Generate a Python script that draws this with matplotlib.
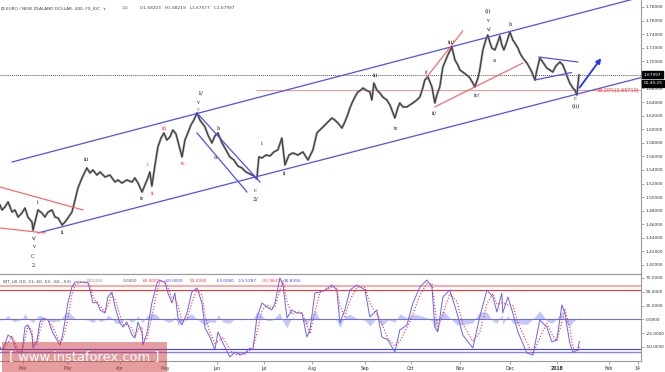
import numpy as np
import matplotlib
matplotlib.use("Agg")
import matplotlib.pyplot as plt
from matplotlib.patches import Rectangle

# EUR/NZD 8h chart with Elliott wave counts and WaveTrend (WT_LB) panel

# --- price (trading-day index, close) ---
days = [0.0, 0.9, 2.2, 3.6, 5.4, 6.7, 8.1, 9.8, 11.2, 12.5, 14.3, 14.8, 16.1, 17.0, 18.8, 20.1, 21.5, 23.3, 24.6, 26.0,
        27.8, 29.1, 30.4, 32.2, 33.6, 34.9, 36.7, 38.0, 38.9, 40.3, 41.6, 43.4, 44.8, 47.0, 49.2, 51.5, 52.8, 54.6, 56.8, 59.1,
        60.4, 61.8, 63.6, 64.9, 66.2, 67.1, 68.0, 69.4, 70.7, 72.1, 73.4, 74.7, 76.1, 77.4, 78.8, 80.1, 81.5, 82.8, 84.1, 85.5,
        86.8, 88.2, 89.5, 91.8, 93.1, 94.9, 96.2, 97.6, 99.4, 101.2, 102.9, 104.7, 106.5, 108.3, 110.1, 111.9, 113.7, 115.0, 115.9, 117.3,
        119.1, 120.9, 122.6, 124.4, 126.2, 127.6, 129.4, 131.1, 133.4, 135.6, 137.9, 140.1, 141.9, 143.2, 144.6, 146.4, 148.6, 149.9, 151.3, 153.1,
        154.4, 155.3, 156.7, 157.6, 158.9, 160.2, 161.6, 162.5, 163.8, 165.6, 166.5, 167.4, 168.7, 170.1, 171.4, 173.2, 174.6, 176.8, 178.1, 179.0,
        180.4, 182.2, 183.5, 184.9, 186.6, 188.0, 189.3, 190.2, 191.6, 192.5, 193.4, 194.7, 195.6, 196.9, 198.3, 199.6, 200.5, 202.3, 203.7, 205.0,
        205.9, 207.2, 209.0, 210.4, 211.7, 212.6, 214.0, 214.8, 216.2, 217.5, 218.4, 219.3, 220.2, 221.6, 222.9, 223.8, 224.7, 225.6, 226.9, 228.3,
        229.6, 230.5, 231.9, 232.8, 234.1, 235.9, 237.2, 238.1, 239.5, 240.4, 241.7, 243.0, 244.8, 246.2, 247.5, 248.9, 250.7, 252.0, 252.9, 254.2,
        255.1, 256.5, 257.4, 258.3, 259.2]
close = [1.4883, 1.4810, 1.4854, 1.4928, 1.4780, 1.4810, 1.4706, 1.4765, 1.4839, 1.4706, 1.4633, 1.4515, 1.4692, 1.4810, 1.4765, 1.4706, 1.4780, 1.4810, 1.4706, 1.4692,
         1.4589, 1.4633, 1.4692, 1.4780, 1.4957, 1.5134, 1.5281, 1.5370, 1.5429, 1.5355, 1.5399, 1.5325, 1.5370, 1.5296, 1.5325, 1.5222, 1.5252, 1.5207, 1.5252, 1.5222,
         1.5281, 1.5207, 1.5075, 1.5178, 1.5281, 1.5370, 1.5163, 1.5473, 1.5738, 1.5870, 1.5944, 1.5841, 1.5885, 1.5988, 1.5929, 1.5768, 1.5591, 1.5841, 1.5944, 1.6062,
         1.6135, 1.6239, 1.6135, 1.6032, 1.5915, 1.5797, 1.5900, 1.5944, 1.5797, 1.5694, 1.5591, 1.5547, 1.5458, 1.5429, 1.5370, 1.5340, 1.5311, 1.5266, 1.5591, 1.5576,
         1.5620, 1.5605, 1.5665, 1.5694, 1.5870, 1.5473, 1.5620, 1.5650, 1.5620, 1.5665, 1.5547, 1.5694, 1.5944, 1.5988, 1.6032, 1.6091, 1.6165, 1.6135, 1.6091, 1.6017,
         1.6106, 1.6180, 1.6313, 1.6386, 1.6474, 1.6548, 1.6577, 1.6607, 1.6577, 1.6548, 1.6430, 1.6680, 1.6577, 1.6533, 1.6474, 1.6430, 1.6357, 1.6165, 1.6313, 1.6386,
         1.6328, 1.6328, 1.6357, 1.6386, 1.6430, 1.6474, 1.6607, 1.6725, 1.6769, 1.6695, 1.6622, 1.6386, 1.6504, 1.6622, 1.6916, 1.7019, 1.7093, 1.7211, 1.7019, 1.6946,
         1.6872, 1.6842, 1.6798, 1.6754, 1.6680, 1.6622, 1.6754, 1.6872, 1.7167, 1.7314, 1.7387, 1.7284, 1.7196, 1.7167, 1.7284, 1.7373, 1.7240, 1.7167, 1.7284, 1.7432,
         1.7314, 1.7270, 1.7196, 1.7122, 1.7049, 1.6975, 1.6901, 1.6842, 1.6725, 1.6872, 1.7049, 1.6990, 1.6901, 1.6872, 1.6842, 1.6931, 1.6990, 1.6946, 1.6872, 1.6754,
         1.6680, 1.6607, 1.6577, 1.6504, 1.6798]
last_close = 1.67997
fib_382 = 1.65710

# --- WaveTrend indicator ---
wt_days = [0.0, 1.3, 3.6, 5.4, 6.7, 8.1, 9.8, 11.2, 12.5, 14.3, 14.8, 16.6, 17.9, 19.2, 21.5, 23.7, 25.5, 26.9, 28.2, 30.4,
           32.2, 33.6, 36.7, 39.4, 40.3, 41.6, 43.4, 44.8, 47.0, 48.3, 50.1, 51.5, 53.7, 55.1, 56.8, 59.1, 60.4, 61.8, 63.6, 64.0,
           65.8, 68.0, 70.3, 71.6, 73.9, 75.2, 77.0, 78.3, 79.7, 81.5, 83.7, 85.9, 88.2, 90.4, 91.8, 94.0, 96.2, 97.6, 99.8, 102.9,
           105.2, 107.4, 109.7, 111.9, 113.2, 115.0, 117.3, 119.5, 121.7, 123.1, 125.3, 126.7, 128.5, 130.7, 132.9, 135.2, 137.4, 138.8, 141.0, 143.2,
           145.5, 148.6, 150.8, 152.2, 154.4, 156.7, 159.8, 163.4, 165.6, 168.7, 171.0, 173.7, 176.8, 179.0, 182.2, 184.9, 188.0, 191.1, 193.4, 194.7,
           196.0, 198.3, 201.4, 204.6, 207.2, 211.7, 214.8, 218.0, 220.7, 222.5, 224.7, 225.1, 227.4, 229.6, 231.9, 235.9, 238.6, 241.7, 244.8, 247.1,
           249.3, 251.6, 252.9, 255.1, 256.5, 258.7, 259.4]
wt1 = [-51.8, -55.4, -28.3, -33.7, -50.0, -59.1, -60.9, -13.8, -10.1, -28.3, -51.8, -37.3, -4.7, 2.5, -1.1, -24.6, -37.3, -46.4, -24.6, 29.7,
       58.7, 67.8, 67.8, 65.9, 53.3, 29.7, 31.5, 17.0, 11.6, 40.6, 49.6, 22.5, -6.5, -13.8, -4.7, -28.3, -33.7, -4.7, -24.6, -46.4,
       -24.6, 29.7, 65.9, 71.4, 65.9, 47.8, 29.7, 47.8, 2.5, -10.1, 11.6, 49.6, 56.9, 29.7, -15.6, -31.9, -55.4, -22.8, -42.8, -68.1,
       -59.1, -64.5, -60.9, -51.8, -55.4, 2.5, 29.7, 22.5, 17.0, 29.7, 75.0, 62.3, 2.5, 17.0, 11.6, 11.6, -31.9, -19.2, 47.8, 49.6,
       53.3, 62.3, 53.3, -6.5, 17.0, 53.3, 62.3, 53.3, 4.3, 17.0, -31.9, -37.3, -59.1, -19.2, -10.1, 29.7, 58.7, 71.4, 58.7, -13.8,
       -22.8, 40.6, 53.3, 11.6, -28.3, -51.8, 4.3, 53.3, 40.6, 13.4, 47.8, 11.6, 40.6, 11.6, -22.8, -60.9, -64.5, -1.1, -13.8, -40.9,
       -37.3, 26.1, 11.6, -42.8, -59.1, -55.4, -40.0]
wt2 = [-50, -53, -42, -30, -42, -55, -60, -35, -12, -20, -40, -45, -20, -2, 0, -14, -31, -42, -36, 0,
       45, 63, 68, 67, 60, 42, 30, 24, 14, 25, 45, 36, 8, -10, -9, -16, -31, -18, -14, -36,
       -36, 5, 50, 69, 69, 57, 38, 38, 25, -4, 0, 30, 54, 44, 7, -24, -43, -40, -32, -55,
       -64, -62, -63, -56, -53, -25, 16, 26, 20, 23, 52, 70, 32, 9, 14, 11, -10, -26, 14, 49,
       52, 58, 58, 24, 5, 35, 58, 58, 29, 10, -8, -35, -48, -40, -15, 10, 44, 65, 65, 22,
       -18, 9, 47, 32, -8, -40, -24, 28, 47, 27, 30, 30, 26, 26, -6, -42, -63, -33, -7, -27,
       -39, -5, 19, -16, -51, -57, -48]
wt_hist = [-1, -1, 7, -2, -4, -2, 0, 11, 1, -4, -6, 4, 8, 2, -1, -5, -3, -2, 6, 15,
           7, 2, 0, -1, -3, -6, 1, -4, -1, 8, 2, -7, -7, -2, 2, -6, -1, 7, -5, -5,
           6, 12, 8, 1, -2, -5, -4, 5, -11, -3, 6, 10, 1, -7, -11, -4, -6, 9, -5, -7,
           2, -1, 1, 2, -1, 14, 7, -2, -2, 3, 12, -4, -15, 4, -1, 0, -11, 3, 17, 0,
           1, 2, -2, -15, 6, 9, 2, -2, -12, 3, -12, -1, -5, 10, 3, 10, 7, 3, -3, -18,
           -2, 16, 3, -10, -10, -6, 14, 13, -3, -7, 9, -9, 7, -7, -8, -9, 0, 16, -3, -7,
           1, 15, -4, -13, -4, 1, 4]
ob_levels = [60, 53]
os_levels = [-60, -53]

# --- axis labels ---
month_pos = [10.3, 30.4, 53.7, 73.9, 97.1, 118.2, 139.7, 163.4, 184.0, 205.9, 228.3, 249.3, 272.6, 285.6]
month_lbl = ["Feb", "Mar", "Apr", "May", "Jun", "Jul", "Aug", "Sep", "Oct", "Nov", "Dec", "2018", "Feb", "14"]
price_ticks = [1.40, 1.42, 1.44, 1.46, 1.48, 1.50, 1.52, 1.54, 1.56, 1.58, 1.60, 1.62, 1.64, 1.66, 1.70, 1.72, 1.74, 1.76, 1.78]
wt_ticks = [75, 50, 25, 0, -25, -50]

# --- drawn trend lines (start/end in day, price) ---
channel_up = [(5.4, 1.5517), (287.4, 1.7949)]
channel_lo = [(17.0, 1.4471), (287.4, 1.6763)]
corr_up = [(88.2, 1.6239), (116.4, 1.5222)]
corr_lo = [(88.2, 1.5944), (110.6, 1.5075)]
wedge_up = [(0.0, 1.5148), (37.2, 1.4810)]
wedge_lo = [(0.0, 1.4545), (20.1, 1.4471)]
red_a = [(191.1, 1.6769), (207.2, 1.7446)]
red_b = [(194.7, 1.6328), (234.1, 1.6975)]
tri_up = [(241.3, 1.7063), (258.7, 1.6990)]
tri_lo = [(239.5, 1.6725), (255.9, 1.6835)]

BLK, RED = "#222222", "#ff3b3b"
wave_labels = [
    ("v/", 14.8, 1.4397, BLK), ("v", 14.8, 1.4265, BLK), ("C", 14.8, 1.4132, BLK), ("2", 14.8, 1.3999, BLK),
    ("i", 17.0, 1.4913, BLK), ("ii", 27.8, 1.4471, BLK), ("iii", 38.9, 1.5547, BLK), ("iv", 63.6, 1.4972, BLK),
    ("i", 66.2, 1.5473, RED), ("ii", 68.5, 1.5060, RED), ("iii", 73.4, 1.6003, RED),
    ("iv", 81.9, 1.5502, RED), ("v", 88.2, 1.6283, RED),
    ("v", 88.6, 1.6386, BLK), ("b", 97.6, 1.6003, BLK), ("a", 96.2, 1.5576, BLK), ("c", 114.1, 1.5104, BLK),
    ("i", 117.3, 1.5782, BLK), ("ii", 127.6, 1.5340, BLK), ("iii", 167.9, 1.6784, BLK), ("iv", 177.3, 1.6003, BLK),
    ("i/", 191.1, 1.6842, BLK), ("ii/", 194.7, 1.6239, BLK), ("iii/", 201.9, 1.7284, BLK), ("iv/", 213.5, 1.6504, BLK),
    ("v/", 218.4, 1.7476, BLK), ("v", 218.4, 1.7608, BLK), ("a", 221.1, 1.7019, BLK), ("b", 228.7, 1.7535, BLK),
    ("c", 257.4, 1.6445, BLK),
]
big_labels = [("1/", 89.5, 1.6533), ("2/", 114.6, 1.4972), ("(i)", 218.4, 1.7726), ("(ii)", 257.8, 1.6328)]

W, H = 665, 372
fig = plt.figure(figsize=(W / 100, H / 100), dpi=100)
fig.patch.set_facecolor("white")
ax = fig.add_axes([0, 98 / H, 641 / W, 274 / H])
ax2 = fig.add_axes([0, 11 / H, 641 / W, 87 / H], sharex=ax)

XMAX = 287.0
ax.set_xlim(0, XMAX)
ax.set_ylim(1.3867, 1.7903)
ax2.set_ylim(-75.4, 82.2)

# price
ax.plot(days, close, color="#8a8a8a", lw=1.6, zorder=3)
ax.plot(days, close, color="#2a2a2a", lw=0.55, zorder=4)

def seg(a, pts, **kw):
    a.plot([pts[0][0], pts[1][0]], [pts[0][1], pts[1][1]], **kw)

blue = dict(color="#5050ee", lw=0.9, zorder=5)
for p in (channel_up, channel_lo, corr_up, corr_lo, tri_up, tri_lo):
    seg(ax, p, **blue)
for p in (wedge_up, wedge_lo, red_a, red_b):
    seg(ax, p, color="#ff5a5a", lw=0.8, zorder=5)

ax.axhline(last_close, color="#555555", lw=0.7, ls=(0, (1, 1)), zorder=2)
ax.plot([114.6, XMAX], [fib_382, fib_382], color="#ff8080", lw=0.6, zorder=2)
ax.text(XMAX - 1, fib_382, "38.20%(1.65710)", color="#ff3030", fontsize=3.5,
        ha="right", va="center", zorder=6)

ax.annotate("", xy=(269.9, 1.7078), xytext=(258.7, 1.6577),
            arrowprops=dict(arrowstyle="-|>", color="#2233ff", lw=1.3, mutation_scale=7), zorder=7)

for s, x, y, c in wave_labels:
    ax.text(x, y, s, color=c, fontsize=3.6, family="DejaVu Serif", ha="center", va="center", zorder=6)
for s, x, y in big_labels:
    ax.text(x, y, s, color=BLK, fontsize=4.2, family="DejaVu Serif", ha="center", va="center", zorder=6)

# indicator
ax2.fill_between(wt_days, 0, wt_hist, color="#9aa4f2", alpha=0.6, lw=0, zorder=1)
ax2.axhline(0, color="#7070e0", lw=0.8, zorder=2)
ax2.axhline(ob_levels[0], color="#ff9090", lw=1.1, zorder=2)
ax2.axhline(ob_levels[1], color="#ff3030", lw=0.8, zorder=2)
ax2.axhline(os_levels[0], color="#8080ff", lw=1.0, zorder=2)
ax2.axhline(os_levels[1], color="#4040ff", lw=0.8, zorder=2)
ax2.plot(wt_days, wt1, color="#6464ff", lw=0.7, zorder=3)
ax2.plot(wt_days, wt2, color="#ff2a2a", lw=0.9, ls=(0, (0.8, 1.6)), zorder=4)

# axes cosmetics
for a in (ax, ax2):
    a.yaxis.tick_right()
    a.tick_params(axis="y", labelsize=3.1, length=2, width=0.5, pad=1.5, colors="#888888", labelcolor="#333333")
    a.spines["left"].set_visible(False)
    for sp in ("right", "top", "bottom"):
        a.spines[sp].set_color("#999999")
        a.spines[sp].set_linewidth(0.8)
ax.spines["top"].set_visible(False)
ax.set_yticks(price_ticks)
ax.set_yticklabels([f"{v:.5f}" for v in price_ticks])
ax2.set_yticks(wt_ticks)
ax2.set_yticklabels([f"{v:.4f}" for v in wt_ticks])
ax.tick_params(axis="x", bottom=False, labelbottom=False)
ax2.set_xticks(month_pos)
ax2.set_xticklabels(month_lbl)
ax2.tick_params(axis="x", labelsize=3.3, length=2, width=0.5, pad=1.5, colors="#888888", labelcolor="#333333")
for t in ax2.get_xticklabels():
    if t.get_text() == "2018":
        t.set_fontweight("bold")

# price boxes on the right scale
box = dict(boxstyle="square,pad=0.35", fc="black", ec="black")
ax.text(1.004, last_close, "1.67997", transform=ax.get_yaxis_transform(), fontsize=3.1,
        color="white", va="center", ha="left", bbox=box, clip_on=False, zorder=10)
ax.text(1.004, 1.6680, "01:40:25", transform=ax.get_yaxis_transform(), fontsize=3.1,
        color="white", va="center", ha="left", bbox=box, clip_on=False, zorder=10)

def px_text(x, y, s, **kw):
    fig.text(x / W, 1 - y / H, s, va="center", ha="left", **kw)

px_text(1, 8, "\u229f EURO / NEW ZEALAND DOLLAR, 480, FX_IDC  \u2228", fontsize=3.1, color="#444444")
px_text(122, 8, "\u22a0\u22a0", fontsize=3.1, color="#aaaaaa")
px_text(140, 8, "O1.68203   H1.68219   L1.67577   C1.67997", fontsize=3.1, color="#444444")

px_text(3, 281, "WT_LB (10, 21, 60, 53, -60, -53)", fontsize=3.1, color="#444444")
px_text(86, 281, "\u22a0\u22a0\u22a0\u22a0\u22a0", fontsize=3.1, color="#bbbbbb")
for x, s, c in [(123, "0.0000", "#555555"), (143, "60.0000", "#ff3030"), (165, "-60.0000", "#4040ff"),
                (190, "53.0000", "#ff3030"), (216, "-53.0000", "#4040ff"), (238, "-19.1287", "#4040ff"),
                (262, "-35.9643", "#ff3030"), (284, "16.8356", "#4040ff")]:
    px_text(x, 281, s, fontsize=3.1, color=c)

# watermark
fig.patches.append(Rectangle((2 / W, 0), 165 / W, 30 / H, transform=fig.transFigure,
                             facecolor="#cc3c3c", alpha=0.5, edgecolor="none", zorder=20))
fig.text(84 / W, 1 - 357 / H, "[ www.instaforex.com ]", color="white", fontsize=9.4,
         ha="center", va="center", zorder=21)

fig.savefig("out.png", dpi=100, facecolor="white")
